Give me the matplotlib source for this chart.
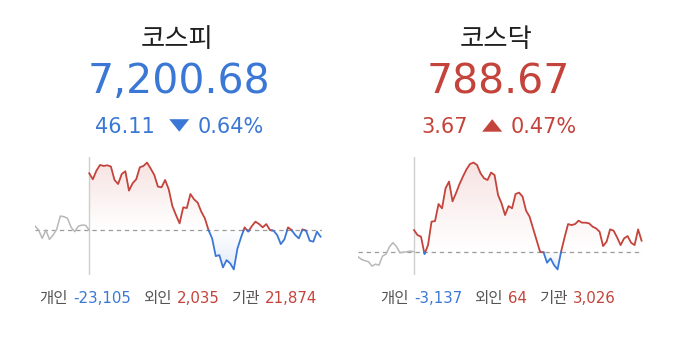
import numpy as np
import matplotlib
matplotlib.use("Agg")
import matplotlib.pyplot as plt
from matplotlib.path import Path
from matplotlib.patches import Polygon
from matplotlib.transforms import IdentityTransform
from matplotlib.colors import to_rgb

# --- data (values relative to previous close) ---
kospi_name = "코스피"
kospi_value = "7,200.68"
kospi_change = "46.11"
kospi_pct = "0.64%"
kospi_prev = [4.3, 0.3, -8, 0.3, -9, -4.7, 1, 14.3, 13.7, 12, 3, -1.3, 4.3, 5.3, 5, 0.3]
kospi_today = [57, 51, 59.7, 65.3, 64.3, 65, 63.7, 50.3, 46.3, 56.3, 59, 39.7, 47, 51,
               63, 64.3, 67.7, 61.7, 55.3, 43.7, 43, 50.3, 41, 24.3, 15.3, 7, 23, 22.3,
               36.3, 31, 27.7, 18.7, 12, 0.3, -8, -25.7, -24.7, -37, -29.7, -33, -39,
               -18.3, -7, 3, -1.3, 4.3, 8.7, 6.3, 3, 6.3, 0.3, -0.3, -4.7, -13.7, -9,
               3, 0.3, -4.7, -8, 1, -0.3, -10.3, -11.3, -1.3, -6.3]
kospi_investors = [("개인", "-23,105"), ("외인", "2,035"), ("기관", "21,874")]

kosdaq_name = "코스닥"
kosdaq_value = "788.67"
kosdaq_change = "3.67"
kosdaq_pct = "0.47%"
kosdaq_prev = [-4.3, -7, -8.3, -9.3, -13.7, -11.7, -12.7, -3.7, -1.7, 5.7, 9.7, 5.7,
               -0.3, 0.3, 0.7, 1.3, 0.7]
kosdaq_today = [22.3, 17.3, 15.7, -1.7, 7.3, 30.7, 31.3, 48.3, 44, 64, 70.7, 51, 59.3,
                68.3, 76, 83, 88.3, 89.7, 87.3, 79, 74, 72.3, 79.7, 77.3, 57.3, 49, 37.3,
                46.3, 44, 58.3, 59.7, 55.7, 41.7, 35.7, 24, 12.3, 0.7, 0, -10.3, -6,
                -12.7, -17, 0.7, 15, 28.3, 27.3, 28.3, 31.7, 29.7, 29.7, 29, 25.7, 24,
                20.7, 6.3, 10.7, 23, 21.7, 15, 7.3, 14, 16.3, 9.7, 7.3, 23, 11.7]
kosdaq_investors = [("개인", "-3,137"), ("외인", "64"), ("기관", "3,026")]

RED = "#c4433b"
BLUE = "#3b78d6"
GRAY_LINE = "#b8b8b8"
FAMILY = ["DejaVu Sans", "Noto Sans CJK KR"]
KFAMILY = ["Noto Sans CJK KR", "DejaVu Sans"]

W, H = 679, 338
fig = plt.figure(figsize=(W / 100, H / 100), dpi=100)
fig.patch.set_facecolor("white")
PX = IdentityTransform()


def split_at_zero(x, y):
    xs, ys = [x[0]], [y[0]]
    for i in range(1, len(x)):
        y0, y1 = y[i - 1], y[i]
        if y0 * y1 < 0:
            t = y0 / (y0 - y1)
            xs.append(x[i - 1] + t * (x[i] - x[i - 1]))
            ys.append(0.0)
        xs.append(x[i])
        ys.append(y1)
    return np.array(xs, float), np.array(ys, float)


def shade(ax, x, y, color, sign):
    yy = np.clip(y * sign, 0, None) * sign
    poly = ax.fill_between(x, yy, 0, facecolor="none", edgecolor="none")
    path = Path.make_compound_path(*poly.get_paths())
    lim = yy.max() if sign > 0 else yy.min()
    if lim == 0:
        return
    rgba = np.zeros((200, 1, 4))
    rgba[..., :3] = to_rgb(color)
    ramp = np.linspace(0.15, 0.0, 200) if sign > 0 else np.linspace(0.0, 0.15, 200)
    rgba[:, 0, 3] = ramp
    ext = [x[0], x[-1], 0, lim] if sign > 0 else [x[0], x[-1], lim, 0]
    img = ax.imshow(rgba, extent=ext, origin="upper", aspect="auto",
                    interpolation="bilinear", zorder=1)
    img.set_clip_path(path, ax.transData)


def draw_chart(rect, prev, today):
    ax = fig.add_axes([rect[0] / W, 1 - rect[3] / H, (rect[2] - rect[0]) / W,
                       (rect[3] - rect[1]) / H])
    ax.axis("off")
    n0 = len(prev) - 1
    xp = np.arange(len(prev))
    xt = np.arange(len(today)) + n0
    yt = np.array(today, float)
    xs, ys = split_at_zero(xt, yt)
    shade(ax, xs, ys, RED, 1)
    shade(ax, xs, ys, BLUE, -1)
    ax.axhline(0, color="#9c9c9c", lw=0.9, ls=(0, (3.5, 3)), zorder=2)
    ax.axvline(n0, color="#cfcfcf", lw=1.0, zorder=2)
    ax.plot(xp, prev, color=GRAY_LINE, lw=1.1, zorder=3)
    ax.plot(xs, np.where(ys >= 0, ys, np.nan), color=RED, lw=1.3, zorder=4)
    ax.plot(xs, np.where(ys <= 0, ys, np.nan), color=BLUE, lw=1.3, zorder=4)
    lo = min(min(prev), yt.min())
    hi = max(max(prev), yt.max())
    pad = 0.052 * (hi - lo)
    ax.set_ylim(lo - pad, hi + pad)
    ax.set_xlim(0, xt[-1] + 0.4)


def text_row(pieces, cx, base):
    # pieces: (kind, content, color, size, gap_after)
    r = fig.canvas.get_renderer()
    items = []
    for kind, s, c, fs, gap in pieces:
        if kind == "tri":
            items.append((kind, s, c, fs, gap, None, 20.0))
        else:
            fam = KFAMILY if kind == "k" else FAMILY
            t = fig.text(0, 0, s, color=c, fontsize=fs, family=fam,
                         va="baseline", ha="left", transform=PX)
            w = t.get_window_extent(r).width
            items.append((kind, s, c, fs, gap, t, w))
    total = sum(it[6] + it[4] for it in items) - items[-1][4]
    x = cx - total / 2
    yb = H - base
    for kind, s, c, fs, gap, t, w in items:
        if kind == "tri":
            hgt = 12.5
            if s == "down":
                pts = [(x, yb + 1 + hgt), (x + w, yb + 1 + hgt), (x + w / 2, yb + 1)]
            else:
                pts = [(x, yb + 1), (x + w, yb + 1), (x + w / 2, yb + 1 + hgt)]
            fig.add_artist(Polygon(pts, closed=True, facecolor=c, edgecolor="none",
                                   transform=PX))
        else:
            t.set_position((x, yb))
        x += w + gap


def panel(cx, name, value, change, pct, direction, color, investors, rect, prev, today):
    fig.text(cx - 1, H - 47, name, color="#1f1f1f", fontsize=19, family=KFAMILY,
             ha="center", va="baseline", transform=PX)
    fig.text(cx + 1, H - 93.3, value, color=color, fontsize=29.5, family=FAMILY,
             ha="center", va="baseline", transform=PX)
    text_row([("t", change, color, 15, 14),
              ("tri", direction, color, None, 8),
              ("t", pct, color, 15, 0)], cx + 1.5, 132.7)
    pieces = []
    for i, (lab, num) in enumerate(investors):
        ncol = BLUE if num.startswith("-") else RED
        pieces.append(("k", lab, "#555555", 11.2, 5))
        pieces.append(("t", num, ncol, 10.8, 12))
    text_row(pieces, cx + 0.5, 303.3)
    draw_chart(rect, prev, today)


panel(178, kospi_name, kospi_value, kospi_change, kospi_pct, "down", BLUE,
      kospi_investors, (35, 157, 322, 275), kospi_prev, kospi_today)
panel(497.5, kosdaq_name, kosdaq_value, kosdaq_change, kosdaq_pct, "up", RED,
      kosdaq_investors, (358, 157, 643, 275), kosdaq_prev, kosdaq_today)

fig.savefig("out.png", dpi=100, facecolor="white")
